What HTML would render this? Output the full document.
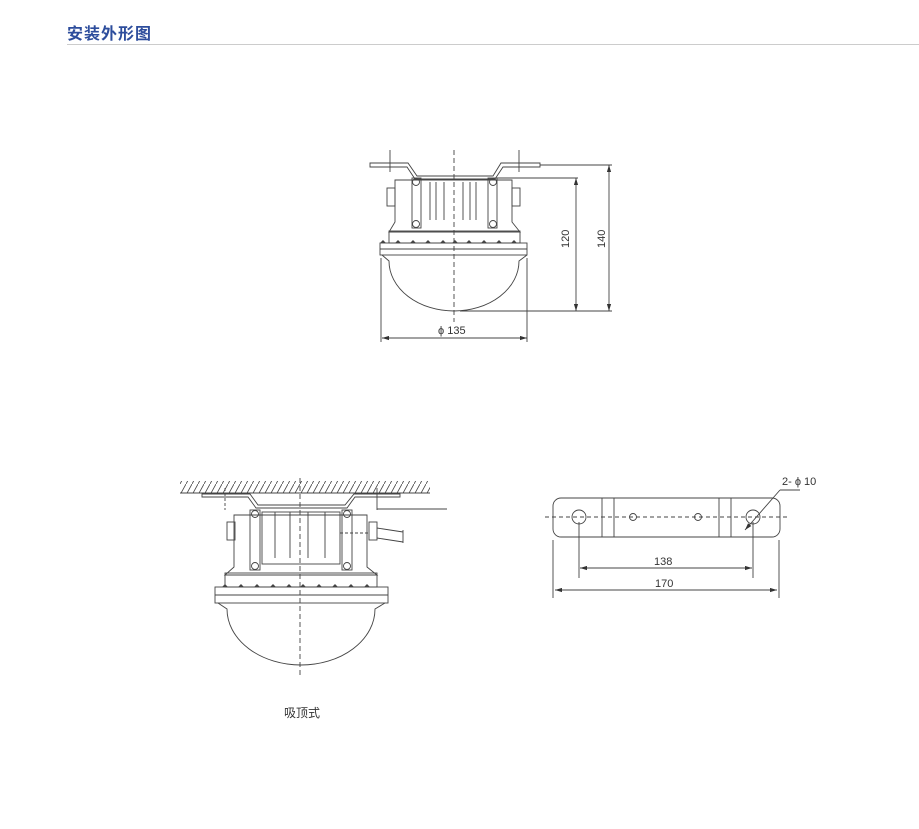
<!DOCTYPE html>
<html><head><meta charset="utf-8"><style>
body{margin:0;background:#fff;}
svg{display:block;}
text{font-family:"Liberation Sans","Noto Sans CJK SC",sans-serif;fill:#333;}
</style></head><body>
<svg width="919" height="829" viewBox="0 0 919 829" xmlns="http://www.w3.org/2000/svg">
<defs>
<marker id="a" viewBox="0 0 10 6" refX="10" refY="3" markerWidth="8" markerHeight="5" orient="auto-start-reverse"><path d="M0,0 L10,3 L0,6z" fill="#333"/></marker>
<pattern id="h" width="6" height="11" patternUnits="userSpaceOnUse"><path d="M0,11 L6,0" stroke="#444" stroke-width="0.8"/></pattern>
</defs>
<text x="67" y="39" style="font-size:16px;font-weight:bold;fill:#2d4d9c;letter-spacing:1px">安装外形图</text>
<line x1="67" y1="44.5" x2="919" y2="44.5" stroke="#ccc"/>

<g stroke="#444" stroke-width="0.9" fill="none">
<!-- TOP VIEW -->
<path d="M370,163 H408 L417,176 H493 L501,163 H540 V167 H503 L495,179 H415 L407,167 H370z" fill="#fff"/>
<line x1="390" y1="150" x2="390" y2="172"/><line x1="519" y1="150" x2="519" y2="172"/>
<path d="M395,180 H512 V222 L520,232 H389 L395,222z"/>
<rect x="412" y="178" width="9" height="50"/><rect x="488" y="178" width="9" height="50"/>
<circle cx="416" cy="182" r="3.5"/><circle cx="416" cy="224" r="3.5"/><circle cx="493" cy="182" r="3.5"/><circle cx="493" cy="224" r="3.5"/>
<path d="M430,182 V220 M436,182 V220 M444,182 V220 M463,182 V220 M470,182 V220 M476,182 V220"/>
<rect x="387" y="188" width="8" height="18"/><rect x="512" y="188" width="8" height="18"/>
<rect x="389" y="231" width="131" height="12"/>
<rect x="380" y="243" width="147" height="12"/><line x1="380" y1="249" x2="527" y2="249"/>
<path d="M382,255 L389,261 A65,50 0 0 0 519,261 L527,255"/>
<line x1="454" y1="150" x2="454" y2="322" stroke-dasharray="5,3"/>
<path d="M540,165 H612 M497,178 H578 M460,311 H612"/>
<line x1="576" y1="178" x2="576" y2="311" marker-start="url(#a)" marker-end="url(#a)"/>
<line x1="609" y1="165" x2="609" y2="311" marker-start="url(#a)" marker-end="url(#a)"/>
<path d="M381,258 V342 M527,258 V342"/>
<line x1="382" y1="338" x2="527" y2="338" marker-start="url(#a)" marker-end="url(#a)"/>

<!-- CEILING VIEW -->
<rect x="180" y="481" width="250" height="12" fill="url(#h)" stroke="none"/>
<line x1="180" y1="493" x2="430" y2="493"/>
<path d="M202,494 H250 L258,505 H345 L354,494 H400 V497 H355 L347,508 H256 L248,497 H202z" fill="#fff"/>
<line x1="225" y1="488" x2="225" y2="510" stroke-dasharray="3,2"/>
<line x1="377" y1="488" x2="377" y2="510"/><line x1="377" y1="509" x2="447" y2="509"/>
<path d="M234,515 H367 V567 L377,575 H225 L234,567z"/>
<rect x="250" y="510" width="10" height="60"/><rect x="342" y="510" width="10" height="60"/>
<rect x="262" y="512" width="78" height="52"/>
<circle cx="255" cy="514" r="3.5"/><circle cx="255" cy="566" r="3.5"/><circle cx="347" cy="514" r="3.5"/><circle cx="347" cy="566" r="3.5"/>
<path d="M275,512 V558 M290,512 V558 M308,512 V558 M325,512 V558"/>
<rect x="227" y="522" width="8" height="18"/><rect x="369" y="522" width="8" height="18"/>
<path d="M377,528 Q390,530 403,532 M377,538 Q390,540 403,542 M403,530 V543"/>
<line x1="340" y1="533" x2="370" y2="533" stroke-dasharray="3,2"/>
<rect x="225" y="573" width="152" height="14"/>
<rect x="215" y="587" width="173" height="16"/><line x1="215" y1="595" x2="388" y2="595"/>
<path d="M218,603 L227,609 A74,56 0 0 0 375,609 L385,603"/>
<line x1="300" y1="478" x2="300" y2="678" stroke-dasharray="5,3"/>

<!-- PLATE -->
<rect x="553" y="498" width="227" height="39" rx="8"/>
<path d="M602,498 V537 M614,498 V537 M719,498 V537 M731,498 V537"/>
<circle cx="579" cy="517" r="7"/><circle cx="753" cy="517" r="7"/>
<circle cx="633" cy="517" r="3.5"/><circle cx="698" cy="517" r="3.5"/>
<line x1="545" y1="517" x2="790" y2="517" stroke-dasharray="4,3"/>
<path d="M579,522 V578 M753,522 V578 M553,540 V598 M779,540 V598"/>
<line x1="580" y1="568" x2="752" y2="568" marker-start="url(#a)" marker-end="url(#a)"/>
<line x1="555" y1="590" x2="777" y2="590" marker-start="url(#a)" marker-end="url(#a)"/>
<line x1="745" y1="530" x2="780" y2="490" marker-start="url(#a)"/>
<line x1="780" y1="490" x2="800" y2="490"/>
</g>
<g fill="#444">
<path d="M380,243 l3,-3 l3,3z M395,243 l3,-3 l3,3z M410,243 l3,-3 l3,3z M425,243 l3,-3 l3,3z M440,243 l3,-3 l3,3z M452,243 l3,-3 l3,3z M466,243 l3,-3 l3,3z M481,243 l3,-3 l3,3z M496,243 l3,-3 l3,3z M511,243 l3,-3 l3,3z"/>
<path d="M222,587 l3,-3 l3,3z M238,587 l3,-3 l3,3z M254,587 l3,-3 l3,3z M270,587 l3,-3 l3,3z M286,587 l3,-3 l3,3z M300,587 l3,-3 l3,3z M316,587 l3,-3 l3,3z M332,587 l3,-3 l3,3z M348,587 l3,-3 l3,3z M364,587 l3,-3 l3,3z"/>
</g>
<text x="438" y="334" style="font-size:11px">ϕ 135</text>
<text transform="translate(569,248) rotate(-90)" style="font-size:11px">120</text>
<text transform="translate(605,248) rotate(-90)" style="font-size:11px">140</text>
<text x="654" y="565" style="font-size:11px">138</text>
<text x="655" y="587" style="font-size:11px">170</text>
<text x="782" y="485" style="font-size:11px">2- ϕ 10</text>
<text x="284" y="717" style="font-size:12px">吸顶式</text>
</svg>
</body></html>
